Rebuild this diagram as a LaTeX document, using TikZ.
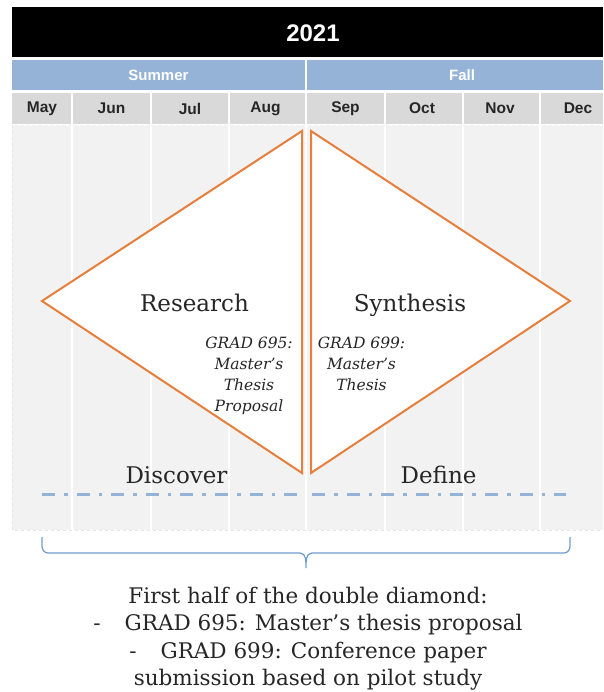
\documentclass[tikz,border=0pt]{standalone}
\usepackage{fontspec}
\setmainfont{DejaVu Serif}
\newfontfamily\headfont{Liberation Sans}
\usepackage{xcolor}
\usetikzlibrary{positioning}
\definecolor{seasonblue}{RGB}{149,179,215}
\definecolor{monthgray}{RGB}{217,217,217}
\definecolor{bodygray}{RGB}{242,242,242}
\definecolor{phaseorange}{RGB}{230,126,60}
\definecolor{bracewire}{RGB}{110,155,205}

\begin{document}
\begin{tikzpicture}[
  x=1pt,y=-1pt,
  headtext/.style={font=\headfont\bfseries\fontsize{15}{17}\selectfont,text=white},
  monthtext/.style={font=\headfont\bfseries\fontsize{15.5}{17}\selectfont,text=black!85},
  phase/.style={font=\fontsize{23}{26}\selectfont,text=black!85,anchor=base,inner sep=0pt},
  course/.style={font=\itshape\fontsize{15.5}{21}\selectfont,align=center,
    anchor=north,inner sep=0pt,text=black!85},
  halfdiamond/.style={draw=phaseorange,line width=2pt,fill=white,line join=miter},
  stageline/.style={draw=seasonblue,line width=3pt,
    dash pattern=on 13pt off 9pt on 3.6pt off 9pt}
]
\useasboundingbox (0,0) rectangle (603,692);
% calendar header
\fill[black] (12,7) rectangle (603,57);
\fill[seasonblue] (12,60) rectangle (603,90);
\draw[white,line width=2pt] (306,60) -- (306,90);
\fill[monthgray] (12,93) rectangle (603,124);
\fill[bodygray] (12,125) rectangle (603,530);
\foreach \xs in {72,151,229,306,385,463,540}
  \draw[white,line width=2pt] (\xs,93) -- (\xs,530);
\draw[white,line width=1pt,dash pattern=on 2pt off 4pt] (12,126) -- (603,126);
\draw[black!10,line width=0.8pt,dashed] (12,125) -- (12,530) -- (603,530);
\node[font=\headfont\bfseries\fontsize{24}{28}\selectfont,text=white] (year) at (313,33) {2021};
\node[headtext] (summer) at (158.5,75) {Summer};
\node[headtext] (fall) at (462,75) {Fall};
\foreach \cx/\mname in {42/May,111.5/Jun,190/Jul,265.5/Aug,345.5/Sep,422/Oct,500/Nov,578/Dec}
  \node[monthtext] (\mname) at (\cx,108.5) {\mname};

% the two halves of the diamond
\draw[halfdiamond] (42,301) -- (302,131) -- (302,473) -- cycle;
\draw[halfdiamond] (311,131) -- (570,301) -- (311,473) -- cycle;
\node[phase] (research) at (194.5,311) {Research};
\node[phase] (synthesis) at (410,311) {Synthesis};
\node[course] (grad695) at (249,336.5) {GRAD 695:\\Master’s\\Thesis\\Proposal};
\node[course] (grad699) at (361.5,336.5) {GRAD 699:\\Master’s\\Thesis};
\node[phase] (discover) at (176.5,483) {Discover};
\node[phase] (define) at (438.5,483) {Define};
\draw[stageline] (42,494) -- (297,494);
\draw[stageline] (312,494) -- (566,494);

% brace and summary
\draw[bracewire,line width=1.2pt] (42,537) -- (42,546) to[out=-90,in=180] (48,553) -- (300,553)
  to[out=0,in=90] (306,568) to[out=90,in=180] (312,553) -- (564,553)
  to[out=0,in=-90] (570,546) -- (570,537);
\node[font=\fontsize{21.5}{27.5}\selectfont,align=center,anchor=north,inner sep=0pt,
  text=black!85] (summary) at (308,586.7)
  {First half of the double diamond:\\
   -\hspace{24pt}GRAD 695: Master’s thesis proposal\\
   -\hspace{24pt}GRAD 699: Conference paper\\
   submission based on pilot study};
\end{tikzpicture}
\end{document}
